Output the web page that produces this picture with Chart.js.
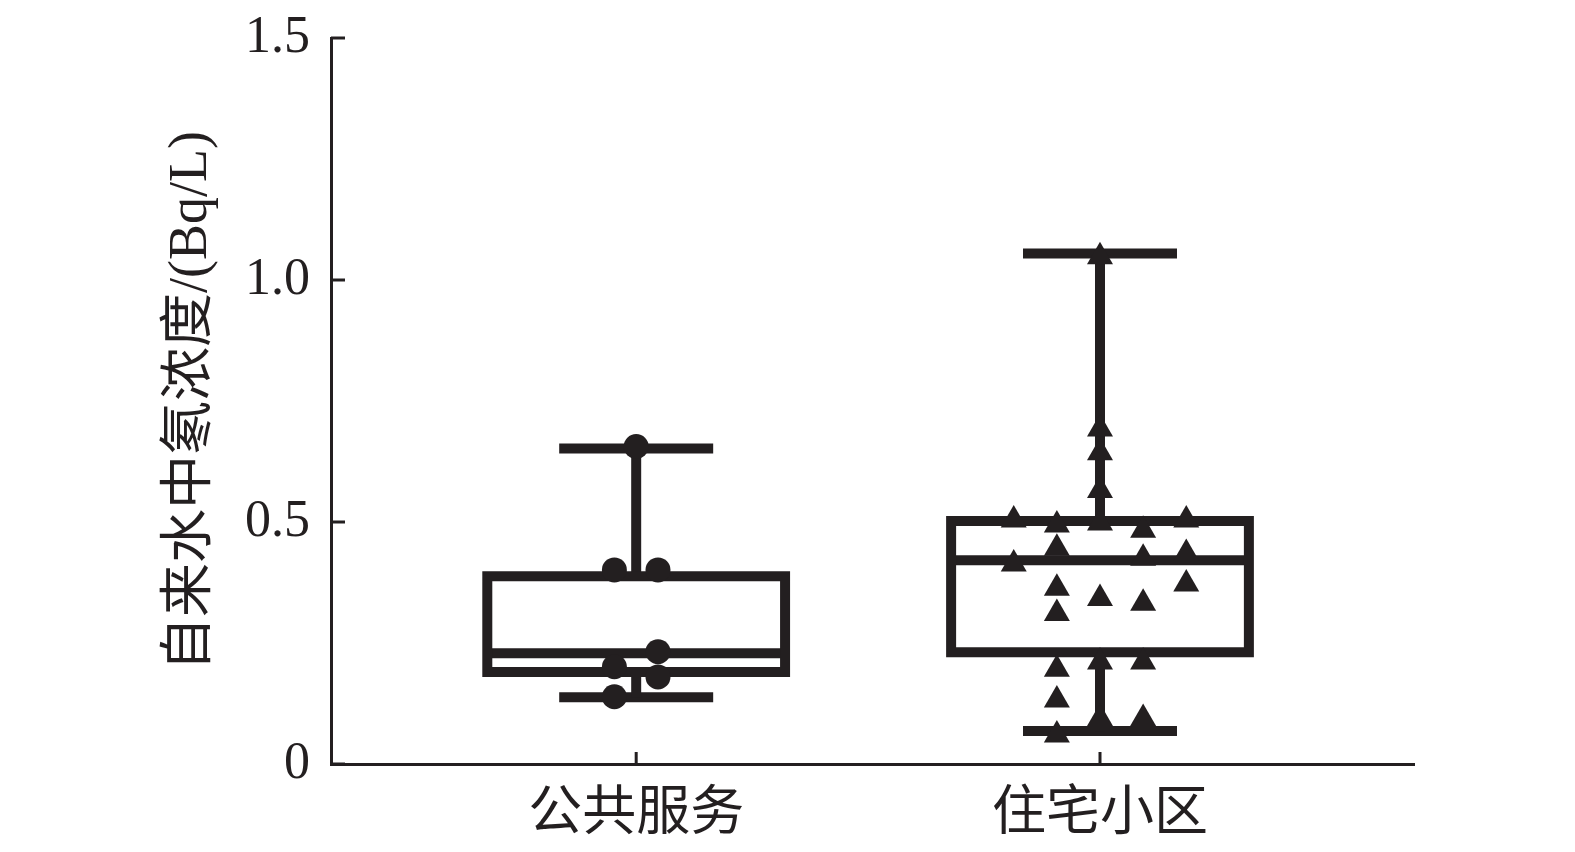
<!DOCTYPE html>
<html>
<head>
<meta charset="utf-8">
<script src="https://cdn.jsdelivr.net/npm/chart.js@4.4.1/dist/chart.umd.min.js"></script>
<style>
  html, body { margin: 0; padding: 0; background: #ffffff; }
  #wrap { width: 1575px; height: 852px; }
</style>
</head>
<body>
<div id="wrap"><canvas id="c" width="1575" height="852"></canvas></div>
<script>
// ---------------- data ----------------
const categories = ['公共服务', '住宅小区'];
const yTickValues = [0, 0.5, 1.0, 1.5];
const yTickLabels = ['0', '0.5', '1.0', '1.5'];
const yTitle = '自来水中氡浓度/(Bq/L)';

// box-plot statistics per category
const whiskerLow  = [0.138, 0.068];
const quartile1   = [0.190, 0.231];
const medians     = [0.229, 0.421];
const quartile3   = [0.388, 0.502];
const whiskerHigh = [0.652, 1.055];

// individual measurements
const publicValues = [0.656, 0.401, 0.401, 0.232, 0.201, 0.180, 0.139];
const residentialValues = [
  1.048, 0.692, 0.643, 0.565, 0.498, 0.342, 0.211, 0.094,
  0.504, 0.413,
  0.494, 0.446, 0.363, 0.311, 0.196, 0.132, 0.060,
  0.483, 0.425, 0.332, 0.211, 0.094,
  0.504, 0.435, 0.372
];

// ---------------- layout (jitter slots, not data) ----------------
const publicSlots = [0, -1, 1, 1, -1, 1, -1];
const residentialSlots = [
  0, 0, 0, 0, 0, 0, 0, 0,
  -2, -2,
  -1, -1, -1, -1, -1, -1, -1,
  1, 1, 1, 1, 1,
  2, 2, 2
];
const publicStep = 0.047;
const residentialStep = 0.093;
const boxHalf = 0.321;
const capHalf = 0.166;
const ink = '#231f20';
const lw = 10;

// ---------------- datasets ----------------
function seg(points, cap) {
  return {
    type: 'scatter', showLine: true, data: points,
    borderColor: ink, borderWidth: lw, pointRadius: 0, pointHoverRadius: 0,
    borderCapStyle: cap || 'butt', borderJoinStyle: 'miter', fill: false, tension: 0,
    clip: false, order: 2
  };
}
const datasets = [];
categories.forEach((c, i) => {
  const cx = i + 1;
  datasets.push(seg([
    {x: cx - boxHalf, y: quartile1[i]}, {x: cx + boxHalf, y: quartile1[i]},
    {x: cx + boxHalf, y: quartile3[i]}, {x: cx - boxHalf, y: quartile3[i]},
    {x: cx - boxHalf, y: quartile1[i]}
  ], 'square'));
  datasets.push(seg([{x: cx - boxHalf, y: medians[i]}, {x: cx + boxHalf, y: medians[i]}]));
  datasets.push(seg([{x: cx, y: whiskerLow[i]}, {x: cx, y: quartile1[i]}]));
  datasets.push(seg([{x: cx, y: quartile3[i]}, {x: cx, y: whiskerHigh[i]}]));
  datasets.push(seg([{x: cx - capHalf, y: whiskerLow[i]}, {x: cx + capHalf, y: whiskerLow[i]}]));
  datasets.push(seg([{x: cx - capHalf, y: whiskerHigh[i]}, {x: cx + capHalf, y: whiskerHigh[i]}]));
});
datasets.push({
  type: 'scatter',
  data: publicValues.map((v, k) => ({x: 1 + publicSlots[k] * publicStep, y: v})),
  pointStyle: 'circle', pointRadius: 12.5, pointHoverRadius: 12.5,
  backgroundColor: ink, borderWidth: 0, clip: false, order: 1
});
datasets.push({
  type: 'scatter',
  data: residentialValues.map((v, k) => ({x: 2 + residentialSlots[k] * residentialStep, y: v})),
  pointStyle: 'triangle', pointRadius: 15, pointHoverRadius: 15,
  backgroundColor: ink, borderWidth: 0, clip: false, order: 1
});

// inward tick marks
const inwardTicks = {
  id: 'inwardTicks',
  afterDraw(chart) {
    const {ctx, chartArea, scales: {x, y}} = chart;
    ctx.save();
    ctx.strokeStyle = ink;
    ctx.lineWidth = 3;
    yTickValues.forEach(v => {
      const py = y.getPixelForValue(v);
      ctx.beginPath(); ctx.moveTo(chartArea.left, py); ctx.lineTo(chartArea.left + 14, py); ctx.stroke();
    });
    categories.forEach((c, i) => {
      const px = x.getPixelForValue(i + 1);
      ctx.beginPath(); ctx.moveTo(px, chartArea.bottom); ctx.lineTo(px, chartArea.bottom - 12); ctx.stroke();
    });
    ctx.restore();
  }
};

const serifCJK = '"Liberation Serif", "Noto Sans CJK SC", serif';

new Chart(document.getElementById('c'), {
  type: 'scatter',
  data: { datasets },
  plugins: [inwardTicks],
  options: {
    responsive: false,
    animation: false,
    events: [],
    layout: { padding: { left: 0, right: 161, top: 38, bottom: 0 } },
    plugins: { legend: { display: false }, tooltip: { enabled: false } },
    scales: {
      x: {
        type: 'linear', position: 'bottom',
        min: 0.342, max: 2.677,
        afterBuildTicks: s => { s.ticks = categories.map((c, i) => ({ value: i + 1 })); },
        afterFit: s => { s.height = 88; s.paddingLeft = 0; s.paddingRight = 0; },
        grid: { display: true, drawOnChartArea: false, drawTicks: false, color: 'rgba(0,0,0,0)' },
        border: { display: true, color: ink, width: 3 },
        ticks: {
          color: ink, padding: 13, maxRotation: 0, autoSkip: false,
          font: { family: '"Noto Sans CJK SC", sans-serif', size: 54 },
          callback: v => categories[Math.round(v) - 1]
        }
      },
      y: {
        type: 'linear', position: 'left',
        min: 0, max: 1.5,
        afterBuildTicks: s => { s.ticks = yTickValues.map(v => ({ value: v })); },
        afterFit: s => { s.width = 331; s.paddingTop = 0; s.paddingBottom = 0; },
        grid: { display: true, drawOnChartArea: false, drawTicks: false, color: 'rgba(0,0,0,0)' },
        border: { display: true, color: ink, width: 3 },
        ticks: {
          color: ink, padding: 21, autoSkip: false,
          font: { family: serifCJK, size: 52 },
          callback: (v) => { const k = yTickValues.indexOf(v); return k >= 0 ? yTickLabels[k] : ''; }
        },
        title: {
          display: true, text: yTitle, color: ink,
          font: { family: serifCJK, size: 54 },
          padding: { top: 159, bottom: 0 }
        }
      }
    }
  }
});
</script>
</body>
</html>
